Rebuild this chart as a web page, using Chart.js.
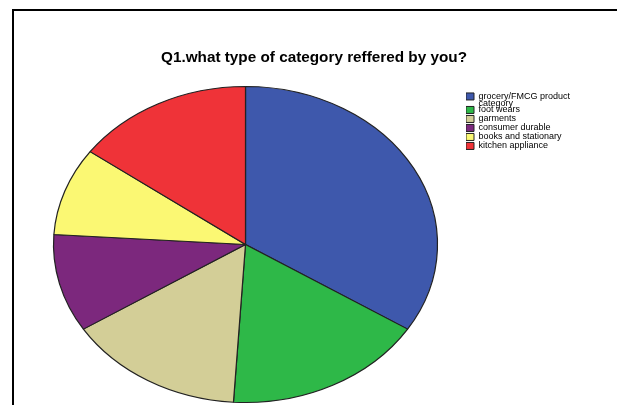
<!DOCTYPE html>
<html>
<head>
<meta charset="utf-8">
<script src="https://cdn.jsdelivr.net/npm/chart.js@4/dist/chart.umd.min.js"></script>
<style>
	html, body { margin: 0; padding: 0; background: #fff; }
	#wrap { position: relative; width: 617px; height: 405px; overflow: hidden; }
	#frame {
		position: absolute; left: 12px; top: 9px; width: 620px; height: 410px;
		border-top: 2px solid #000; border-left: 2px solid #000;
	}
	canvas { position: absolute; left: 0; top: 0; }
</style>
</head>
<body>
<div id="wrap">
	<div id="frame"></div>
	<canvas id="pieChart" width="617" height="405"></canvas>
</div>
<script>
const categories = [
	["grocery/FMCG product", "category"],
	"foot wears",
	"garments",
	"consumer durable",
	"books and stationary",
	"kitchen appliance",
];
const counts = [34, 17, 15, 10, 9, 15];
const sliceColors = ["#3e58ac", "#2eb848", "#d3ce97", "#7c287d", "#fbf873", "#ef3338"];

// SPSS draws the pie a bit wider than tall, so stretch it sideways around its centre
const stretchX = 192 / 158;
const ellipsePlugin = {
	id: "ellipse",
	beforeLayout(chart) {
		// legend column is wider in the original than its text needs
		const legend = chart.legend;
		if (legend && !legend._widened) {
			const fit = legend.fit;
			legend.fit = function () {
				fit.call(this);
				this.width = 137;
			};
			legend._widened = true;
		}
	},
	beforeDatasetsDraw(chart) {
		const arc = chart.getDatasetMeta(0).data[0];
		const ctx = chart.ctx;
		ctx.save();
		ctx.translate(arc.x, arc.y);
		ctx.scale(stretchX, 1);
		ctx.translate(-arc.x, -arc.y);
	},
	afterDatasetsDraw(chart) {
		chart.ctx.restore();
	},
};

new Chart(document.getElementById("pieChart"), {
	type: "pie",
	data: {
		labels: categories,
		datasets: [
			{
				data: counts,
				backgroundColor: sliceColors,
				borderColor: "#222",
				borderWidth: 1,
				radius: 158,
			},
		],
	},
	options: {
		responsive: false,
		animation: false,
		events: [],
		layout: {
			padding: { left: 25, right: 14, top: 0, bottom: 8 },
		},
		plugins: {
			title: {
				display: true,
				text: "Q1.what type of category reffered by you?",
				color: "#000",
				font: { family: "Liberation Sans, Arial, sans-serif", size: 15.3, weight: "bold", lineHeight: 1.2 },
				padding: { top: 49, bottom: 24.6 },
			},
			legend: {
				position: "right",
				align: "start",
				fullSize: false,
				labels: {
					color: "#000",
					boxWidth: 8,
					boxHeight: 7,
					padding: 0,
					font: { family: "Liberation Sans, Arial, sans-serif", size: 9, lineHeight: 0.75 },
				},
			},
			tooltip: { enabled: false },
		},
	},
	plugins: [ellipsePlugin],
});
</script>
</body>
</html>
